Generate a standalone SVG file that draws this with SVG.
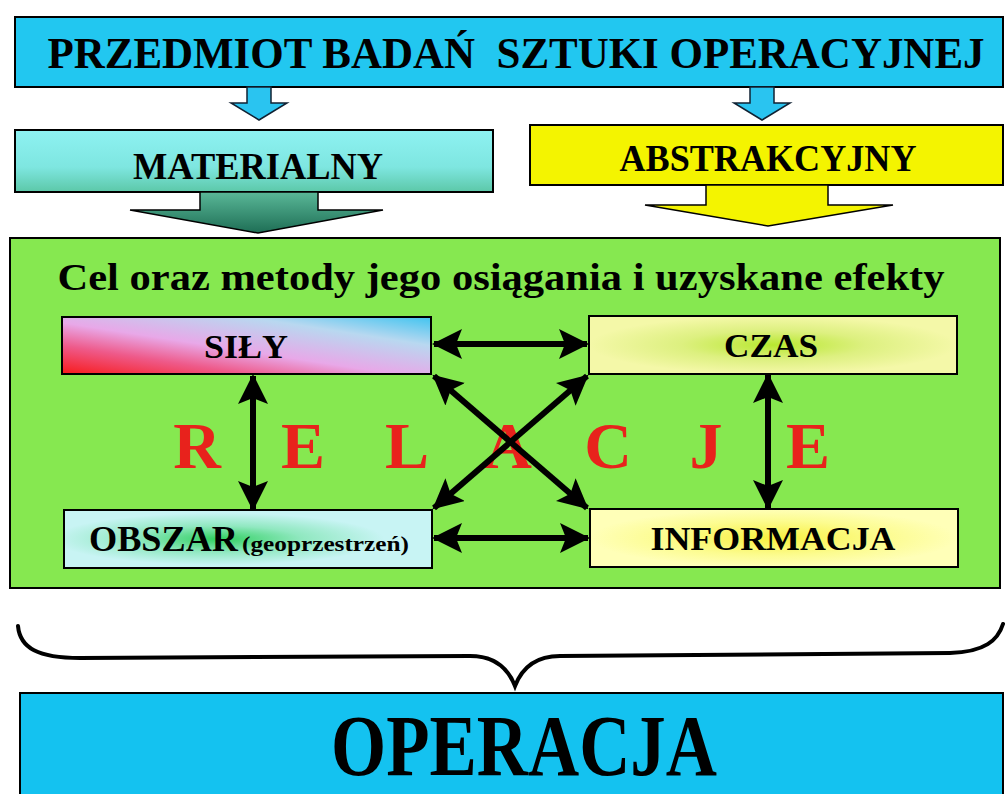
<svg xmlns="http://www.w3.org/2000/svg" width="1005" height="794" viewBox="0 0 1005 794">
<defs>
<style>
.t{font-family:"Liberation Serif","Times New Roman",serif;font-weight:bold;fill:#000;text-anchor:middle}
.s{font-family:"Liberation Serif","Times New Roman",serif;font-weight:bold;fill:#000}
.r{font-family:"Liberation Serif","Times New Roman",serif;font-weight:bold;fill:#E8221C;font-size:66px;text-anchor:middle}
.box{stroke:#000;stroke-width:2}
.conn{stroke:#000;stroke-width:6;fill:none;marker-start:url(#ah);marker-end:url(#ah)}
</style>
<marker id="ah" markerUnits="userSpaceOnUse" markerWidth="32" markerHeight="32" refX="28" refY="15" orient="auto-start-reverse">
<path d="M0,0 L30,15 L0,30 L6,15 Z" fill="#000"/>
</marker>
<linearGradient id="gMat" x1="0" y1="0" x2="0" y2="1">
<stop offset="0" stop-color="#8EF2F2"/><stop offset="0.6" stop-color="#7EE6E0"/><stop offset="1" stop-color="#5CC8A8"/>
</linearGradient>
<linearGradient id="gMatArr" x1="0" y1="0" x2="0" y2="1">
<stop offset="0" stop-color="#5AB898"/><stop offset="1" stop-color="#1E6E55"/>
</linearGradient>
<linearGradient id="gSily" x1="0" y1="1" x2="1" y2="0">
<stop offset="0" stop-color="#F81A1A"/><stop offset="0.25" stop-color="#EE5A8A"/><stop offset="0.45" stop-color="#E8A8E8"/><stop offset="0.75" stop-color="#B8D8F0"/><stop offset="1" stop-color="#40C4F0"/>
</linearGradient>
<radialGradient id="gCzas" cx="0.5" cy="0.5" r="0.5">
<stop offset="0" stop-color="#B8E830"/><stop offset="0.5" stop-color="#DDF080"/><stop offset="1" stop-color="#F4F8A8"/>
</radialGradient>
<radialGradient id="gObs" cx="0.42" cy="0.5" r="0.45">
<stop offset="0" stop-color="#30D060"/><stop offset="0.5" stop-color="#90E8C0"/><stop offset="1" stop-color="#C8F4F4"/>
</radialGradient>
<radialGradient id="gInf" cx="0.5" cy="0.5" r="0.5">
<stop offset="0" stop-color="#F8F040"/><stop offset="0.6" stop-color="#FCFC90"/><stop offset="1" stop-color="#FFFFB8"/>
</radialGradient>
</defs>
<rect width="1005" height="794" fill="#fff"/>

<g id="przedmiot">
<rect class="box" x="15" y="17" width="988" height="70" fill="#22C7F0"/>
<text class="t" transform="translate(516,68) scale(1,1.22)" x="0" y="0" font-size="36" style="white-space:pre" textLength="937" lengthAdjust="spacingAndGlyphs">PRZEDMIOT BADAŃ  SZTUKI OPERACYJNEJ</text>
</g>

<g id="connectors-top">
<path d="M247,87 H271 V103 H287 L259,120 L231,103 H247 Z" fill="#2AC4F0" stroke="#123" stroke-width="1.5"/>
<path d="M750,87 H774 V103 H790 L762,120 L734,103 H750 Z" fill="#2AC4F0" stroke="#123" stroke-width="1.5"/>
</g>

<g id="materialny">
<rect class="box" x="15" y="130" width="478" height="62" fill="url(#gMat)"/>
<text class="t" x="258" y="179" font-size="37" textLength="250" lengthAdjust="spacingAndGlyphs">MATERIALNY</text>
<path d="M200,192 H318 V210 H383 L258,233 L130,210 H200 Z" fill="url(#gMatArr)" stroke="#000" stroke-width="1.5"/>
</g>

<g id="abstrakcyjny">
<rect class="box" x="530" y="125" width="473" height="60" fill="#F4F400"/>
<text class="t" x="768" y="171" font-size="37" textLength="297" lengthAdjust="spacingAndGlyphs">ABSTRAKCYJNY</text>
<path d="M706,185 H828 V205 H893 L768,226 L645,205 H706 Z" fill="#F4F400" stroke="#000" stroke-width="1.5"/>
</g>

<g id="cel">
<rect class="box" x="10" y="238" width="990" height="350" fill="#86E850"/>
<text class="t" x="501" y="290" font-size="37" textLength="887" lengthAdjust="spacingAndGlyphs">Cel oraz metody jego osiągania i uzyskane efekty</text>
</g>

<g id="relacje">
<text class="r" x="197" y="468">R</text>
<text class="r" x="303" y="468">E</text>
<text class="r" x="407" y="468">L</text>
<text class="r" x="508" y="468">A</text>
<text class="r" x="608" y="468">C</text>
<text class="r" x="706" y="468">J</text>
<text class="r" x="808" y="468">E</text>
</g>

<g id="connectors">
<line class="conn" x1="434" y1="344" x2="587" y2="344"/>
<line class="conn" x1="434" y1="538" x2="588" y2="538"/>
<line class="conn" x1="253" y1="376" x2="253" y2="509"/>
<line class="conn" x1="768" y1="375" x2="768" y2="508"/>
<line class="conn" x1="434" y1="376" x2="587" y2="508"/>
<line class="conn" x1="587" y1="376" x2="434" y2="508"/>
</g>

<g id="sily">
<rect class="box" x="62" y="317" width="369" height="57" fill="url(#gSily)"/>
<text class="t" x="246" y="358" font-size="33" textLength="84" lengthAdjust="spacingAndGlyphs">SIŁY</text>
</g>

<g id="czas">
<rect class="box" x="589" y="316" width="368" height="58" fill="url(#gCzas)"/>
<text class="t" x="771" y="357" font-size="33" textLength="94" lengthAdjust="spacingAndGlyphs">CZAS</text>
</g>

<g id="obszar">
<rect class="box" x="64" y="510" width="368" height="58" fill="url(#gObs)"/>
<text class="s" y="551"><tspan x="89" font-size="35" textLength="149" lengthAdjust="spacingAndGlyphs">OBSZAR</tspan><tspan x="242" font-size="20" textLength="167" lengthAdjust="spacingAndGlyphs">(geoprzestrzeń)</tspan></text>
</g>

<g id="informacja">
<rect class="box" x="590" y="509" width="368" height="58" fill="url(#gInf)"/>
<text class="t" x="773" y="550" font-size="33" textLength="245" lengthAdjust="spacingAndGlyphs">INFORMACJA</text>
</g>

<g id="brace">
<path d="M18,626 C20,648 38,658 80,658 L470,656 C495,656 508,668 515,686 C522,668 535,656 560,656 L950,653 C985,652 998,640 1003,624" fill="none" stroke="#000" stroke-width="4" stroke-linecap="round"/>
</g>

<g id="operacja">
<rect class="box" x="20" y="693" width="983" height="110" fill="#14C2F0"/>
<text class="t" x="524" y="775" font-size="86" textLength="386" lengthAdjust="spacingAndGlyphs">OPERACJA</text>
</g>
</svg>
